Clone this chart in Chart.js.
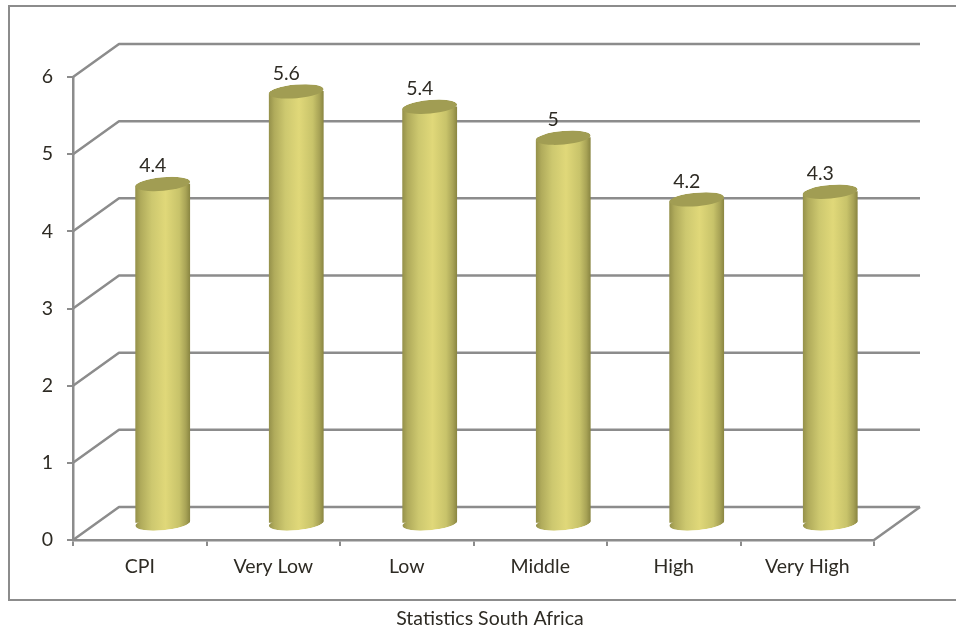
<!DOCTYPE html>
<html lang="en">

<head>
  <meta charset="UTF-8" />
  <title>Statistics South Africa</title>
  <script src="https://cdn.jsdelivr.net/npm/chart.js@4.4.1/dist/chart.umd.min.js"></script>
  <style>
    html, body { margin: 0; padding: 0; background: #fff; overflow: hidden; }
    #wrap { position: relative; width: 956px; height: 630px; }
  </style>
</head>

<body>
  <div id="wrap"><canvas id="cpiChart" width="956" height="630"></canvas></div>

  <script>
    const categories = ["CPI", "Very Low", "Low", "Middle", "High", "Very High"];
    const inflation = [4.4, 5.6, 5.4, 5, 4.2, 4.3];
    const caption = "Statistics South Africa";

    const LINE = "#8c8c8c";
    const TEXT = "#2e2b24";
    const FONT = "Lato, Carlito, sans-serif";
    const FONT_SIZE = 19.5;

    // depth of the fake 3d box, back wall sits up and to the right
    const DEPTH_X = 46;
    const DEPTH_Y = 33;

    // cylinder cross section
    const RX = 27.5;
    const RY = 6.8;
    const TILT = -0.09;

    function cylinderGradient(context) {
      const chart = context.chart;
      const xScale = chart.scales.x;
      const cx = xScale ? xScale.getPixelForValue(context.dataIndex) : NaN;
      if (!Number.isFinite(cx)) return "#d0ca6c";
      const g = chart.ctx.createLinearGradient(cx - RX, 0, cx + RX, 0);
      g.addColorStop(0, "#94904a");
      g.addColorStop(0.1, "#b0ab5b");
      g.addColorStop(0.3, "#cdc86f");
      g.addColorStop(0.55, "#e0d879");
      g.addColorStop(0.8, "#c8c36a");
      g.addColorStop(0.92, "#a8a356");
      g.addColorStop(1, "#888440");
      return g;
    }

    // outer frame and caption
    const framePlugin = {
      id: "frame",
      beforeDraw(chart) {
        const ctx = chart.ctx;
        ctx.save();
        ctx.strokeStyle = LINE;
        ctx.lineWidth = 2;
        ctx.beginPath();
        ctx.moveTo(956, 600);
        ctx.lineTo(9, 600);
        ctx.lineTo(9, 6);
        ctx.lineTo(956, 6);
        ctx.stroke();
        ctx.fillStyle = TEXT;
        ctx.font = FONT_SIZE + "px " + FONT;
        ctx.textAlign = "center";
        ctx.textBaseline = "middle";
        ctx.fillText(caption, 490, 619);
        ctx.restore();
      }
    };

    // side wall and back wall grid lines, plus the floor edge
    const wallPlugin = {
      id: "walls",
      beforeDatasetsDraw(chart) {
        const ctx = chart.ctx;
        const { x: xScale, y: yScale } = chart.scales;
        const left = xScale.left;
        const right = xScale.right;
        ctx.save();
        ctx.strokeStyle = LINE;
        ctx.lineWidth = 2.5;
        ctx.lineJoin = "round";
        yScale.ticks.forEach((tick) => {
          const y = yScale.getPixelForValue(tick.value);
          ctx.beginPath();
          ctx.moveTo(left, y);
          ctx.lineTo(left + DEPTH_X, y - DEPTH_Y);
          ctx.lineTo(right + DEPTH_X, y - DEPTH_Y);
          ctx.stroke();
        });
        const y0 = yScale.getPixelForValue(0);
        ctx.beginPath();
        ctx.moveTo(right, y0);
        ctx.lineTo(right + DEPTH_X, y0 - DEPTH_Y);
        ctx.stroke();
        ctx.restore();
      }
    };

    // moves the bars to mid depth and trims them to a cylinder outline
    const cylinderPlugin = {
      id: "cylinders",
      beforeDatasetDraw(chart, args) {
        const ctx = chart.ctx;
        const base = chart.scales.y.getPixelForValue(0);
        ctx.save();
        ctx.translate(DEPTH_X / 2, -DEPTH_Y / 2);
        ctx.beginPath();
        args.meta.data.forEach((bar) => {
          ctx.moveTo(bar.x - RX, bar.y);
          ctx.ellipse(bar.x, bar.y, RX, RY, TILT, Math.PI, Math.PI * 2);
          ctx.ellipse(bar.x, base, RX, RY, TILT, 0, Math.PI);
          ctx.closePath();
        });
        ctx.clip();
      },
      afterDatasetDraw(chart, args) {
        const ctx = chart.ctx;
        const base = chart.scales.y.getPixelForValue(0);
        args.meta.data.forEach((bar, i) => {
          // bottom curve, same shading as the body
          ctx.beginPath();
          ctx.ellipse(bar.x, base, RX, RY, TILT, 0, Math.PI * 2);
          ctx.fillStyle = cylinderGradient({ chart, dataIndex: i });
          ctx.fill();
          // top cap
          ctx.beginPath();
          ctx.ellipse(bar.x, bar.y, RX, RY, TILT, 0, Math.PI * 2);
          ctx.fillStyle = "#a19d53";
          ctx.fill();
        });
        ctx.restore();

        // value labels, a little left of the cylinder axis
        ctx.save();
        ctx.fillStyle = TEXT;
        ctx.font = FONT_SIZE + "px " + FONT;
        ctx.textAlign = "center";
        ctx.textBaseline = "middle";
        args.meta.data.forEach((bar, i) => {
          const lx = bar.x + DEPTH_X / 2 - 10;
          const ly = bar.y - DEPTH_Y / 2 - 18;
          ctx.fillText(String(inflation[i]), lx, ly);
        });
        ctx.restore();
      }
    };

    new Chart(document.getElementById("cpiChart"), {
      type: "bar",
      data: {
        labels: categories,
        datasets: [{
          data: inflation,
          barThickness: 55,
          borderWidth: 0,
          backgroundColor: cylinderGradient,
          clip: false
        }]
      },
      options: {
        responsive: false,
        animation: false,
        layout: { padding: { left: 0, right: 82, top: 77, bottom: 0 } },
        plugins: { legend: { display: false }, tooltip: { enabled: false } },
        scales: {
          x: {
            afterFit(scale) { scale.height = 90; },
            grid: { drawOnChartArea: false, color: LINE, lineWidth: 2, tickLength: 6 },
            border: { color: LINE, width: 2.5 },
            ticks: { color: TEXT, font: { family: FONT, size: FONT_SIZE }, padding: 9, maxRotation: 0 }
          },
          y: {
            min: 0,
            max: 6,
            afterFit(scale) { scale.width = 73; },
            grid: { drawOnChartArea: false, color: LINE, lineWidth: 2, tickLength: 6 },
            border: { color: LINE, width: 2.5 },
            ticks: { stepSize: 1, color: TEXT, font: { family: FONT, size: FONT_SIZE }, padding: 14 }
          }
        }
      },
      plugins: [framePlugin, wallPlugin, cylinderPlugin]
    });
  </script>
</body>

</html>
